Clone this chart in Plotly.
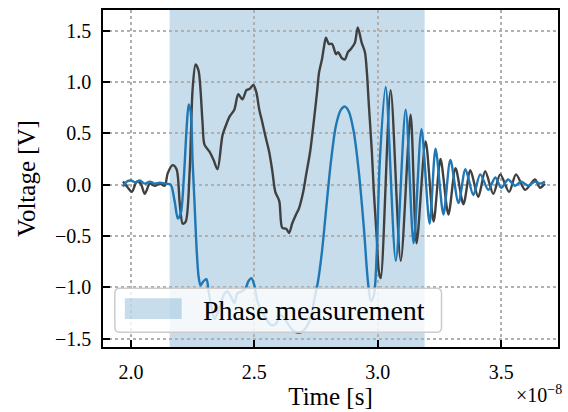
import plotly.graph_objects as go

# time in units of 1e-8 s
SCALE = 1e-8
time_black = [1.968, 1.988, 2.004, 2.024, 2.040, 2.056, 2.077, 2.097, 2.117, 2.137, 2.149, 2.169, 2.185,
              2.198, 2.210, 2.222, 2.238, 2.250, 2.262, 2.274, 2.290, 2.298, 2.319, 2.335, 2.351, 2.371,
              2.387, 2.399, 2.419, 2.435, 2.452, 2.468, 2.480, 2.496, 2.508, 2.520, 2.532, 2.544, 2.560,
              2.573, 2.585, 2.601, 2.613, 2.629, 2.641, 2.653, 2.669, 2.681, 2.698, 2.710, 2.726, 2.742,
              2.754, 2.762, 2.774, 2.782, 2.790, 2.802, 2.815, 2.831, 2.839, 2.855, 2.867, 2.879, 2.891,
              2.907, 2.919, 2.935, 2.948, 2.956, 2.964, 2.976, 2.984, 2.996, 3.004, 3.012, 3.052, 3.093,
              3.133, 3.157, 3.194, 3.226, 3.254, 3.286, 3.315, 3.347, 3.375, 3.407, 3.435, 3.468, 3.496,
              3.532, 3.560, 3.597, 3.637, 3.657, 3.677]
volt_black = [0.03, -0.03, -0.07, 0.03, 0.01, -0.09, 0.01, -0.01, 0.01, -0.01, 0.11, 0.19, 0.15,
              -0.19, -0.38, -0.36, 0.13, 0.93, 1.17, 1.11, 0.61, 0.39, 0.32, 0.24, 0.15, 0.48,
              0.59, 0.66, 0.73, 0.88, 0.83, 0.92, 0.93, 0.97, 0.90, 0.73, 0.61, 0.48, 0.32,
              0.13, -0.07, -0.16, -0.42, -0.43, -0.47, -0.38, -0.29, -0.23, -0.07, 0.10, 0.32, 0.64,
              0.90, 1.09, 1.22, 1.34, 1.43, 1.37, 1.37, 1.27, 1.29, 1.23, 1.22, 1.29, 1.32,
              1.38, 1.53, 1.38, 1.29, 1.09, 0.77, 0.32, -0.07, -0.52, -0.84, -0.91, 0.92, -0.74,
              0.68, -0.57, 0.42, -0.36, 0.25, -0.29, 0.16, -0.19, 0.14, -0.12, 0.13, -0.09, 0.10,
              -0.07, 0.10, -0.05, 0.05, -0.03, 0.01]

time_blue = [1.968, 1.984, 2.000, 2.020, 2.036, 2.056, 2.077, 2.097, 2.117, 2.141, 2.161, 2.177, 2.190,
             2.202, 2.214, 2.226, 2.234, 2.242, 2.250, 2.258, 2.266, 2.274, 2.282, 2.294, 2.306, 2.315,
             2.327, 2.339, 2.351, 2.363, 2.379, 2.391, 2.403, 2.419, 2.431, 2.448, 2.464, 2.476, 2.488,
             2.500, 2.512, 2.528, 2.544, 2.560, 2.573, 2.589, 2.605, 2.621, 2.637, 2.653, 2.673, 2.694,
             2.710, 2.726, 2.742, 2.758, 2.774, 2.794, 2.810, 2.831, 2.851, 2.867, 2.883, 2.903, 2.923,
             2.944, 2.960, 2.972, 2.984, 2.996, 3.008, 3.032, 3.073, 3.113, 3.145, 3.177, 3.210,
             3.234, 3.266, 3.294, 3.327, 3.355, 3.387, 3.415, 3.448, 3.476, 3.500, 3.528, 3.556,
             3.581, 3.609, 3.637, 3.657, 3.677]
volt_blue = [-0.02, 0.03, 0.04, 0.02, 0.04, 0.01, 0.03, 0.01, 0.02, 0.01, 0.00, -0.16, -0.33,
             -0.28, 0.05, 0.56, 0.78, 0.71, 0.22, -0.19, -0.62, -0.89, -0.98, -0.94, -0.92, -1.04,
             -1.20, -1.31, -1.25, -1.16, -1.06, -1.04, -1.08, -1.15, -1.06, -1.04, -1.01, -0.94, -0.91,
             -0.98, -1.13, -1.23, -1.29, -1.35, -1.37, -1.35, -1.27, -1.30, -1.36, -1.41, -1.44, -1.43,
             -1.39, -1.31, -1.13, -0.94, -0.65, -0.16, 0.22, 0.58, 0.73, 0.76, 0.71, 0.51, 0.13,
             -0.43, -0.94, -1.13, -1.08, -0.65, 0.22, 0.95, -0.74, 0.73, -0.57, 0.54, -0.38,
             0.35, -0.29, 0.24, -0.18, 0.15, -0.10, 0.10, -0.05, 0.07, -0.03, 0.05, -0.01,
             0.03, -0.01, 0.03, 0.01, 0.03]

phase_window = [2.157, 3.190]
x_range = [1.887, 3.730]
y_range = [-1.58, 1.70]
x_ticks = [2.0, 2.5, 3.0, 3.5]
y_ticks = [-1.5, -1.0, -0.5, 0.0, 0.5, 1.0, 1.5]
legend_label = "Phase measurement"

FONT = "Liberation Serif"
BLUE = "#1f77b4"
DARK = "#404040"
SPAN = "rgba(31,119,180,0.25)"

fig = go.Figure()
fig.add_trace(go.Scatter(
    x=[t * SCALE for t in time_black], y=volt_black, mode="lines",
    line=dict(color=DARK, width=2.4, shape="spline", smoothing=0.8), showlegend=False))
fig.add_trace(go.Scatter(
    x=[t * SCALE for t in time_blue], y=volt_blue, mode="lines",
    line=dict(color=BLUE, width=2.4, shape="spline", smoothing=0.8), showlegend=False))

# shaded phase-measurement window
fig.add_shape(type="rect", xref="x", yref="y domain",
              x0=phase_window[0] * SCALE, x1=phase_window[1] * SCALE, y0=0, y1=1,
              fillcolor=SPAN, line=dict(width=0), layer="below")

# legend box (rounded, semi-transparent) drawn in paper coordinates
W, H = 457.0, 339.0          # plot area size in px
bx0, bx1, by0, by1 = 0.026, 0.744, 0.044, 0.174
rx, ry = 5 / W, 5 / H
path = (f"M{bx0+rx},{by0} L{bx1-rx},{by0} Q{bx1},{by0} {bx1},{by0+ry} "
        f"L{bx1},{by1-ry} Q{bx1},{by1} {bx1-rx},{by1} L{bx0+rx},{by1} "
        f"Q{bx0},{by1} {bx0},{by1-ry} L{bx0},{by0+ry} Q{bx0},{by0} {bx0+rx},{by0} Z")
fig.add_shape(type="path", path=path, xref="paper", yref="paper", layer="above",
              fillcolor="rgba(255,255,255,0.8)", line=dict(color="#cccccc", width=1.5))
fig.add_shape(type="rect", xref="paper", yref="paper", layer="above",
              x0=0.048, x1=0.173, y0=0.083, y1=0.145, fillcolor=SPAN, line=dict(width=0))
fig.add_annotation(text=legend_label, xref="paper", yref="paper", x=0.216, y=0.108,
                   xanchor="left", yanchor="middle", showarrow=False,
                   font=dict(family=FONT, size=28, color="black"))

def fmt(v):
    s = f"{abs(v):.1f}"
    return ("\u2212" + s) if v < 0 else s

axis_common = dict(
    showline=True, linecolor="black", linewidth=1.5, mirror=True,
    ticks="inside", ticklen=7, tickwidth=1.5, tickcolor="black",
    showgrid=True, gridcolor="#b0b0b0", griddash="dot", gridwidth=1.5,
    zeroline=False, tickfont=dict(family=FONT, size=20, color="black"),
    ticklabelstandoff=6,
)

fig.update_xaxes(range=[v * SCALE for v in x_range],
                 tickvals=[v * SCALE for v in x_ticks], ticktext=[f"{v:.1f}" for v in x_ticks],
                 title=dict(text="Time [s]", font=dict(family=FONT, size=25, color="black"), standoff=4),
                 **axis_common)
fig.update_yaxes(range=y_range, tickvals=y_ticks, ticktext=[fmt(v) for v in y_ticks],
                 title=dict(text="Voltage [V]", font=dict(family=FONT, size=25, color="black"), standoff=12),
                 **axis_common)

fig.add_annotation(text="\u00d710<sup>\u22128</sup>", xref="paper", yref="paper",
                   x=1.013, y=-0.138, xanchor="right", yanchor="middle", showarrow=False,
                   font=dict(family=FONT, size=20, color="black"))

fig.update_layout(
    width=568, height=412,
    margin=dict(l=103, r=8, t=8, b=65),
    plot_bgcolor="white", paper_bgcolor="white",
    showlegend=False,
)

fig.write_html("out.html")
